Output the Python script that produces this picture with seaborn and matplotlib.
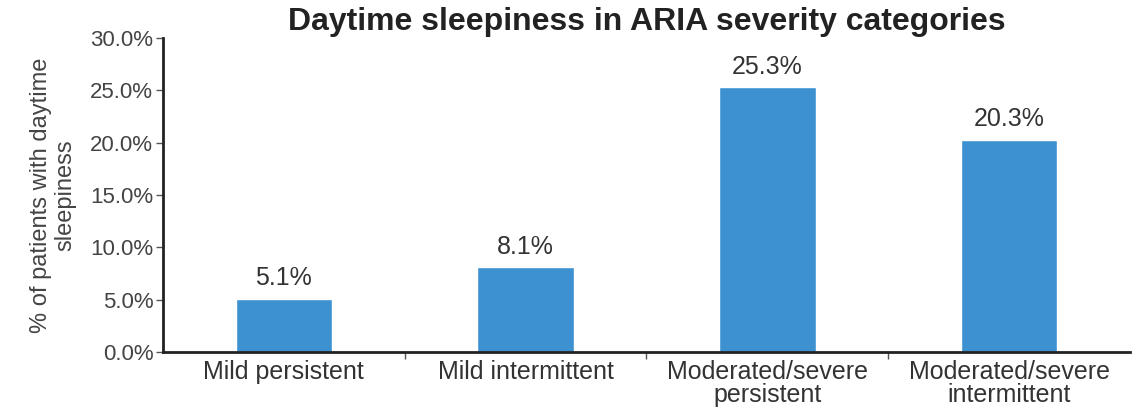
"""
Daytime sleepiness by ARIA severity category - bar chart.
"""

import matplotlib.pyplot as plt
import seaborn as sns
from matplotlib.ticker import FixedLocator, PercentFormatter

CATEGORIES = [
    "Mild persistent",
    "Mild intermittent",
    "Moderated/severe\npersistent",
    "Moderated/severe\nintermittent",
]
SLEEPINESS_PCT = [5.1, 8.1, 25.3, 20.3]
BAR_COLOR = "#3d91d1"


def main() -> None:
    sns.set_theme(style="white")
    plt.rcParams["font.family"] = ["Liberation Sans", "DejaVu Sans"]

    fig = plt.figure(figsize=(11.35, 4.13), dpi=100)
    ax = fig.add_axes([0.1436, 0.1477, 0.852, 0.7603])

    sns.barplot(x=CATEGORIES, y=SLEEPINESS_PCT, color=BAR_COLOR, width=0.4,
                saturation=1, ax=ax)

    for i, v in enumerate(SLEEPINESS_PCT):
        ax.text(i, v + 0.8, f"{v:.1f}%", ha="center", va="bottom",
                fontsize=18, color="#333333")

    ax.set_ylim(0, 30)
    ax.set_xlim(-0.5, 3.5)
    ax.set_yticks([0, 5, 10, 15, 20, 25, 30])
    ax.yaxis.set_major_formatter(PercentFormatter(decimals=1))
    ax.tick_params(axis="y", labelsize=16, labelcolor="#444444", length=5,
                   width=1, color="#555555", left=True, pad=2)
    ax.tick_params(axis="x", which="major", labelsize=18, labelcolor="#333333",
                   length=0, pad=6)
    for lbl in ax.get_xticklabels():
        lbl.set_linespacing(0.95)
    ax.xaxis.set_minor_locator(FixedLocator([0.5, 1.5, 2.5]))
    ax.tick_params(axis="x", which="minor", length=5, width=1, color="#555555",
                   bottom=True)

    for side in ("top", "right"):
        ax.spines[side].set_visible(False)
    for side in ("left", "bottom"):
        ax.spines[side].set_color("#222222")
        ax.spines[side].set_linewidth(2)

    ax.set_ylabel("% of patients with daytime\nsleepiness", fontsize=17,
                  color="#444444", labelpad=10, linespacing=1.15)
    ax.set_title("Daytime sleepiness in ARIA severity categories",
                 fontsize=23, fontweight="bold", color="#222222", pad=6)

    fig.savefig("out.png", dpi=100)
    plt.close(fig)


if __name__ == "__main__":
    main()
